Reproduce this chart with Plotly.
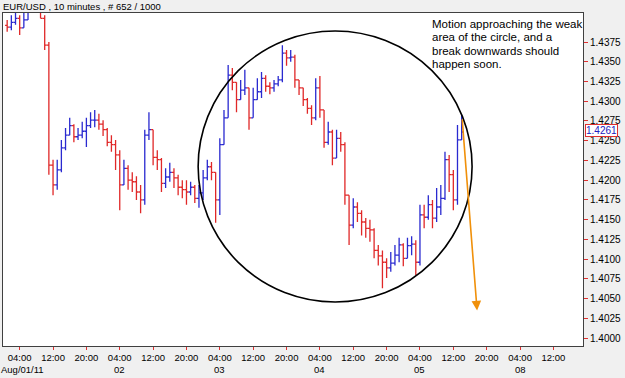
import plotly.graph_objects as go

# ---------------- data (hourly OHLC) ----------------
bar_hours = list(range(1, 111))  # hours since Aug 01 00:00 on the trading timeline
first_open = 1.4396
close = [1.4394, 1.4400, 1.4405, 1.4393, 1.4403, 1.4422, 1.4441, 1.4447, 1.4405, 1.4371,
         1.4219, 1.4194, 1.4213, 1.4241, 1.4257, 1.4269, 1.4255, 1.4257, 1.4262, 1.4269,
         1.4276, 1.4276, 1.4271, 1.4264, 1.4248, 1.4245, 1.4232, 1.4194, 1.4215, 1.4200,
         1.4198, 1.4185, 1.4175, 1.4257, 1.4264, 1.4229, 1.4226, 1.4196, 1.4204, 1.4210,
         1.4203, 1.4191, 1.4188, 1.4185, 1.4191, 1.4177, 1.4184, 1.4203, 1.4217, 1.4210,
         1.4175, 1.4245, 1.4279, 1.4333, 1.4324, 1.4302, 1.4314, 1.4317, 1.4279, 1.4302,
         1.4312, 1.4329, 1.4319, 1.4317, 1.4322, 1.4327, 1.4361, 1.4355, 1.4356, 1.4327,
         1.4317, 1.4302, 1.4291, 1.4279, 1.4317, 1.4289, 1.4248, 1.4261, 1.4228, 1.4253,
         1.4245, 1.4181, 1.4143, 1.4166, 1.4158, 1.4147, 1.4139, 1.4137, 1.4111, 1.4104,
         1.4096, 1.4089, 1.4095, 1.4105, 1.4118, 1.4101, 1.4117, 1.4119, 1.4096, 1.4156,
         1.4153, 1.4169, 1.4152, 1.4166, 1.4177, 1.4226, 1.4207, 1.4175, 1.4251, 1.4261]
high = [1.4403, 1.4409, 1.4416, 1.4409, 1.4416, 1.4435, 1.4454, 1.4460, 1.4441, 1.4409,
        1.4375, 1.4226, 1.4226, 1.4251, 1.4266, 1.4279, 1.4271, 1.4266, 1.4274, 1.4279,
        1.4286, 1.4289, 1.4284, 1.4276, 1.4266, 1.4257, 1.4251, 1.4238, 1.4226, 1.4219,
        1.4210, 1.4205, 1.4194, 1.4264, 1.4286, 1.4260, 1.4238, 1.4228, 1.4215, 1.4222,
        1.4215, 1.4207, 1.4200, 1.4200, 1.4198, 1.4194, 1.4194, 1.4213, 1.4226, 1.4223,
        1.4207, 1.4253, 1.4289, 1.4346, 1.4342, 1.4324, 1.4327, 1.4340, 1.4314, 1.4317,
        1.4329, 1.4337, 1.4333, 1.4324, 1.4327, 1.4332, 1.4371, 1.4365, 1.4365, 1.4359,
        1.4327, 1.4317, 1.4304, 1.4295, 1.4329, 1.4332, 1.4289, 1.4274, 1.4264, 1.4264,
        1.4261, 1.4248, 1.4181, 1.4177, 1.4172, 1.4162, 1.4152, 1.4150, 1.4139, 1.4118,
        1.4111, 1.4101, 1.4109, 1.4118, 1.4127, 1.4120, 1.4127, 1.4129, 1.4124, 1.4169,
        1.4169, 1.4181, 1.4175, 1.4190, 1.4194, 1.4236, 1.4232, 1.4213, 1.4270, 1.4283]
low = [1.4388, 1.4390, 1.4397, 1.4384, 1.4393, 1.4409, 1.4428, 1.4435, 1.4409, 1.4365,
       1.4207, 1.4181, 1.4188, 1.4210, 1.4238, 1.4257, 1.4248, 1.4251, 1.4253, 1.4242,
       1.4266, 1.4267, 1.4264, 1.4256, 1.4243, 1.4236, 1.4213, 1.4162, 1.4194, 1.4188,
       1.4185, 1.4175, 1.4158, 1.4169, 1.4251, 1.4219, 1.4213, 1.4185, 1.4190, 1.4198,
       1.4190, 1.4181, 1.4177, 1.4169, 1.4181, 1.4171, 1.4165, 1.4175, 1.4200, 1.4200,
       1.4146, 1.4156, 1.4251, 1.4286, 1.4314, 1.4286, 1.4302, 1.4308, 1.4264, 1.4289,
       1.4302, 1.4304, 1.4312, 1.4309, 1.4312, 1.4319, 1.4324, 1.4345, 1.4350, 1.4317,
       1.4308, 1.4294, 1.4284, 1.4270, 1.4276, 1.4279, 1.4241, 1.4245, 1.4219, 1.4236,
       1.4236, 1.4169, 1.4118, 1.4139, 1.4147, 1.4130, 1.4127, 1.4122, 1.4101, 1.4092,
       1.4063, 1.4076, 1.4084, 1.4092, 1.4096, 1.4091, 1.4101, 1.4105, 1.4080, 1.4092,
       1.4139, 1.4150, 1.4139, 1.4147, 1.4156, 1.4175, 1.4185, 1.4162, 1.4169, 1.4251]
last_price = 1.4261

tick_hours = [4, 12, 20, 28, 36, 44, 52, 60, 68, 76, 84, 92, 100, 108, 116, 124, 132]
tick_text = ["04:00", "12:00", "20:00", "04:00", "12:00", "20:00", "04:00", "12:00", "20:00",
             "04:00", "12:00", "20:00", "04:00", "12:00", "20:00", "04:00", "12:00"]
date_hours = [4, 28, 52, 76, 100, 124]
date_text = ["Aug/01/11", "02", "03", "04", "05", "08"]
price_ticks = [1.4000, 1.4025, 1.4050, 1.4075, 1.4100, 1.4125, 1.4150, 1.4175,
               1.4200, 1.4225, 1.4250, 1.4275, 1.4300, 1.4325, 1.4350, 1.4375]

x_range = [0, 139.1]
y_range = [1.39899, 1.44118]

circle_hours = [46.8, 112.5]
circle_prices = [1.40456, 1.4389]
arrow_from = (110.1, 1.4279)
arrow_to = (113.7, 1.4035)

title_text = "EUR/USD , 10 minutes , # 652 / 1000"
note_lines = ["Motion approaching the weak", "area of the circle, and a",
              "break downwards should", "happen soon."]

# ---------------- figure ----------------
FONT = "Liberation Sans, Arial, sans-serif"
opens = [first_open] + close[:-1]
highs = [max(h, o, c) for h, o, c in zip(high, opens, close)]
lows = [min(l, o, c) for l, o, c in zip(low, opens, close)]

fig = go.Figure()
fig.add_trace(go.Ohlc(
    x=bar_hours, open=opens, high=highs, low=lows, close=close,
    increasing=dict(line=dict(color="#2a2ad0", width=1.3)),
    decreasing=dict(line=dict(color="#e02828", width=1.3)),
    tickwidth=0.5, showlegend=False, hoverinfo="skip",
))

fig.add_shape(type="circle", xref="x", yref="y",
              x0=circle_hours[0], x1=circle_hours[1],
              y0=circle_prices[0], y1=circle_prices[1],
              line=dict(color="black", width=1.6))

fig.add_annotation(x=arrow_to[0], y=arrow_to[1], ax=arrow_from[0], ay=arrow_from[1],
                   xref="x", yref="y", axref="x", ayref="y", text="",
                   showarrow=True, arrowhead=2, arrowsize=1.2, arrowwidth=1.6,
                   arrowcolor="#f0900a")

fig.add_annotation(xref="paper", yref="paper", x=-0.0034, y=1.021, xanchor="left",
                   yanchor="middle", text=title_text, showarrow=False,
                   font=dict(family=FONT, size=9.5, color="black"))

for k, line in enumerate(note_lines):
    fig.add_annotation(xref="paper", yref="paper", x=0.7362, y=0.967 - k * 0.04,
                       xanchor="left", yanchor="middle", text=line, showarrow=False,
                       font=dict(family=FONT, size=11.5, color="black"))

for k, (h, t) in enumerate(zip(date_hours, date_text)):
    fig.add_annotation(xref="x", yref="paper", x=h, y=-0.072, xanchor="center",
                       yanchor="middle", xshift=(3 if k == 0 else 0), text=t,
                       showarrow=False, font=dict(family=FONT, size=9.5, color="black"))

fig.add_annotation(xref="paper", yref="y", x=1, y=last_price, xanchor="left",
                   yanchor="middle", xshift=2, yshift=2, text=f"{last_price:.4f}",
                   showarrow=False,
                   font=dict(family=FONT, size=10, color="#2020c0"),
                   bgcolor="white", bordercolor="#e03030", borderwidth=1, borderpad=0)

fig.update_layout(
    width=625, height=378,
    margin=dict(l=3, r=42, t=13, b=32),
    paper_bgcolor="#f0f0f0", plot_bgcolor="white",
    font=dict(family=FONT, size=10, color="black"),
    xaxis=dict(range=x_range, tickmode="array", tickvals=tick_hours, ticktext=tick_text,
               ticks="outside", ticklen=3, tickcolor="#e03030", showgrid=False,
               zeroline=False, showline=True, linecolor="#404040", linewidth=1,
               mirror=True, rangeslider=dict(visible=False),
               tickfont=dict(family=FONT, size=9.5)),
    yaxis=dict(range=y_range, side="right", tickmode="array", tickvals=price_ticks,
               tickformat=".4f", ticks="outside", ticklen=4, tickcolor="#e03030",
               showgrid=False, zeroline=False, showline=True, linecolor="#404040",
               linewidth=1, mirror=True, tickfont=dict(family=FONT, size=10)),
)

fig.write_html("out.html")
